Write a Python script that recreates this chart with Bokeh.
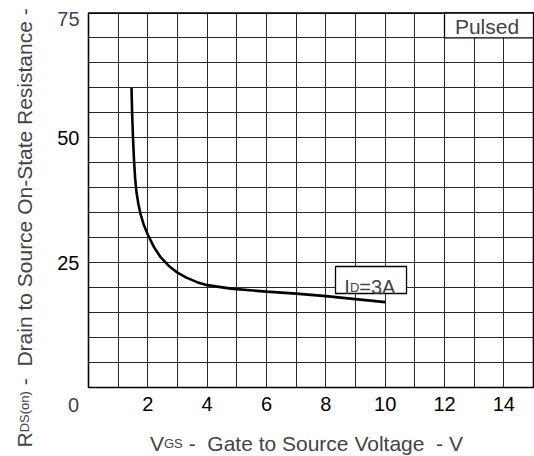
import math
from bokeh.plotting import figure
from bokeh.models import (Range1d, FixedTicker, Label, BoxAnnotation, Grid)
from bokeh.embed import file_html
from bokeh.resources import INLINE

# ---- data ----
vgs = [1.45, 1.47, 1.50, 1.53, 1.57, 1.62, 1.68, 1.76, 1.85, 2.0, 2.2, 2.43, 2.7, 3.0, 3.3, 3.66,
       4.0, 4.8, 6.0, 7.0, 8.0, 9.0, 10.0]
rds = [60.0, 55.0, 50.0, 46.0, 42.0, 39.0, 36.8, 34.6, 32.8, 30.6, 28.2, 26.1, 24.4, 23.0, 22.0, 21.1,
       20.5, 19.8, 19.2, 18.8, 18.3, 17.7, 17.1]
x_ticks = [2, 4, 6, 8, 10, 12, 14]
y_ticks = [25, 50]
x_grid = [0, 1, 2, 3, 4, 5, 6, 7, 8, 9, 10, 11, 12, 13, 14, 15]
y_grid = [0, 5, 10, 15, 20, 25, 30, 35, 40, 45, 50, 55, 60, 65, 70, 75]
x_max, y_max = 15, 75

# ---- layout (pixels) ----
W, H = 534, 456
FX0, FX1 = 88, 533        # data x = 0 / x_max
FY0, FY1 = 387, 12.5      # data y = 0 / y_max (from top)
sx = (FX1 - FX0) / x_max
sy = (FY0 - FY1) / y_max
FONT = "Liberation Sans"

p = figure(width=W, height=H,
           x_range=Range1d(-FX0 / sx, x_max + (W - FX1) / sx),
           y_range=Range1d(-(H - FY0) / sy, y_max + FY1 / sy),
           output_backend="svg", toolbar_location=None)
p.min_border = 0
p.min_border_left = p.min_border_right = p.min_border_top = p.min_border_bottom = 0
p.background_fill_color = "white"
p.border_fill_color = "white"
p.outline_line_color = None

# axes drawn inside the (full-canvas) frame at fixed locations
p.xaxis.fixed_location = 0
p.yaxis.fixed_location = 0
p.xaxis.bounds = (0, x_max)
p.yaxis.bounds = (0, y_max)
p.xaxis.ticker = FixedTicker(ticks=x_ticks)
p.yaxis.ticker = FixedTicker(ticks=y_ticks)
for ax in (p.xaxis, p.yaxis):
    ax.axis_line_color = None
    ax.major_tick_line_color = None
    ax.minor_tick_line_color = None
    ax.major_tick_out = 0
    ax.major_tick_in = 0
    ax.major_label_text_font = FONT
    ax.major_label_text_font_size = "20px"
    ax.major_label_text_color = "black"
p.xaxis.major_label_standoff = 9
p.yaxis.major_label_standoff = 9

GRID_COLOR = "#2a2a2a"
if "cross_bounds" in Grid.properties():
    p.xgrid.ticker = FixedTicker(ticks=x_grid)
    p.ygrid.ticker = FixedTicker(ticks=y_grid)
    p.xgrid.bounds = (0, x_max)
    p.ygrid.bounds = (0, y_max)
    p.xgrid.cross_bounds = (0, y_max)
    p.ygrid.cross_bounds = (0, x_max)
    for g in (p.xgrid, p.ygrid):
        g.grid_line_color = GRID_COLOR
        g.grid_line_alpha = 1.0
        g.grid_line_width = 1
else:
    p.grid.visible = False
    p.segment(x0=x_grid, y0=[0] * len(x_grid), x1=x_grid, y1=[y_max] * len(x_grid),
              line_color=GRID_COLOR, line_width=1)
    p.segment(x0=[0] * len(y_grid), y0=y_grid, x1=[x_max] * len(y_grid), y1=y_grid,
              line_color=GRID_COLOR, line_width=1)

p.line(vgs, rds, line_color="black", line_width=2.6)

# frame border
p.add_layout(BoxAnnotation(left=0, right=x_max, bottom=0, top=y_max, fill_alpha=0,
                           line_color="black", line_alpha=1, line_width=1.6))

# extra tick labels
p.add_layout(Label(x=0, y=y_max, text="75", text_align="right", text_baseline="middle",
                   x_offset=-9, y_offset=-6, text_font=FONT, text_font_size="20px"))
p.add_layout(Label(x=0, y=0, text="0", text_align="center", text_baseline="middle",
                   x_offset=-15, y_offset=-17, text_font=FONT, text_font_size="20px"))

# "Pulsed" box
p.add_layout(BoxAnnotation(left=12, right=x_max, bottom=70, top=y_max, fill_color="white", fill_alpha=1,
                           line_color="black", line_alpha=1, line_width=1.3))
p.add_layout(Label(x=13.5, y=72.5, text="Pulsed", text_align="center", text_baseline="middle",
                   x_offset=-2, y_offset=-1, text_font=FONT, text_font_size="21px"))

# "ID=3A" box
p.add_layout(BoxAnnotation(left=8.326, right=10.72, bottom=18.83, top=24.23, fill_color="white",
                           fill_alpha=1, line_color="black", line_alpha=1, line_width=1.3))
p.add_layout(Label(x=8.623, y=20.09, text="I", text_baseline="alphabetic",
                   text_font=FONT, text_font_size="20px"))
p.add_layout(Label(x=8.623, y=20.09, text="D", text_baseline="alphabetic", x_offset=5.6,
                   text_font=FONT, text_font_size="13px"))
p.add_layout(Label(x=8.623, y=20.09, text="=3A", text_baseline="alphabetic", x_offset=15,
                   text_font=FONT, text_font_size="20px"))

# x axis title (screen units, origin bottom-left of canvas)
xl_x, xl_y = 149.5, 13
p.add_layout(Label(x=xl_x, y=xl_y, x_units="screen", y_units="screen", text="V",
                   text_baseline="alphabetic", text_font=FONT, text_font_size="21px"))
p.add_layout(Label(x=xl_x + 14, y=xl_y, x_units="screen", y_units="screen", text="GS",
                   text_baseline="alphabetic", text_font=FONT, text_font_size="13px"))
p.add_layout(Label(x=xl_x + 32.8, y=xl_y, x_units="screen", y_units="screen",
                   text="\u00a0-\u00a0\u00a0Gate to Source Voltage\u00a0\u00a0-\u00a0V",
                   text_baseline="alphabetic", text_font=FONT, text_font_size="21px"))

# y axis title (rotated)
yl_x, yl_y = 24, 9
p.add_layout(Label(x=yl_x, y=yl_y, x_units="screen", y_units="screen", text="R", angle=math.pi / 2,
                   text_baseline="alphabetic", text_font=FONT, text_font_size="21px"))
p.add_layout(Label(x=yl_x, y=yl_y + 15.2, x_units="screen", y_units="screen", text="DS(on)",
                   angle=math.pi / 2, text_baseline="alphabetic", text_font=FONT,
                   text_font_size="13px"))
p.add_layout(Label(x=yl_x, y=yl_y + 56.4, x_units="screen", y_units="screen",
                   text="\u00a0-\u00a0\u00a0Drain to Source On-State Resistance - ",
                   angle=math.pi / 2, text_baseline="alphabetic", text_font=FONT,
                   text_font_size="21px"))

open("out.html", "w").write(file_html(p, INLINE))
